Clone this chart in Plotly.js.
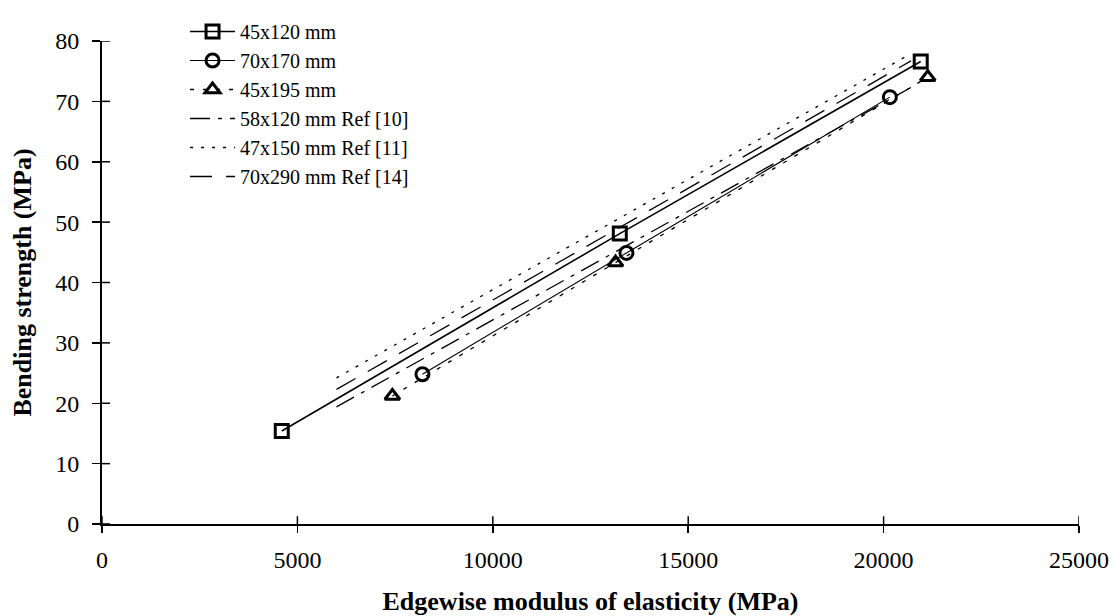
<!DOCTYPE html>
<html><head><meta charset="utf-8">
<script src="https://cdn.plot.ly/plotly-3.0.1.min.js"></script>
<style>html,body{margin:0;padding:0;background:#fff}</style>
</head><body><div id="chart" style="width:1116px;height:616px"></div>
<script>
// Series names
const seriesNames = ["45x120 mm", "70x170 mm", "45x195 mm",
  "58x120 mm Ref [10]", "47x150 mm Ref [11]", "70x290 mm Ref [14]"];

const s45x120_x = [4600, 13250, 20950];
const s45x120_y = [15.4, 48.1, 76.6];
const s70x170_x = [8200, 13420, 20160];
const s70x170_y = [24.8, 44.9, 70.7];
const s45x195_x = [7430, 13140, 21130];
const s45x195_y = [21.2, 43.3, 74.0];

// Reference regression lines
const ref10_x = [6000, 20700];
const ref10_y = [19.4, 72.3];
const ref11_x = [6000, 20700];
const ref11_y = [24.2, 77.9];
const ref14_x = [6000, 20700];
const ref14_y = [22.3, 76.7];

// Axis ticks
const xTicks = [0, 5000, 10000, 15000, 20000, 25000];
const yTicks = [0, 10, 20, 30, 40, 50, 60, 70, 80];

const FONT = "Liberation Serif, Times New Roman, serif";
const black = "#000";

const W = 1116, H = 616;
const M = {l: 102, r: 37, t: 25, b: 92};
const INNER_TICK_PX = 8;
const plotW = W - M.l - M.r, plotH = H - M.t - M.b;

const traces = [
  {x: s45x120_x, y: s45x120_y, name: seriesNames[0], mode: "lines+markers",
   line: {color: black, width: 1.6},
   marker: {symbol: "square-open", size: 13, color: black, line: {width: 3, color: black}}},
  {x: s70x170_x, y: s70x170_y, name: seriesNames[1], mode: "lines+markers",
   line: {color: black, width: 1.1},
   marker: {symbol: "circle-open", size: 13, color: black, line: {width: 3, color: black}}},
  {x: s45x195_x, y: s45x195_y, name: seriesNames[2], mode: "lines+markers",
   line: {color: black, width: 1.3, dash: "4px,9px"},
   marker: {symbol: "triangle-up-open", size: 13, color: black, line: {width: 3, color: black}}},
  {x: ref10_x, y: ref10_y, name: seriesNames[3], mode: "lines",
   line: {color: black, width: 1.3, dash: "20px,8px,4px,8px"}},
  {x: ref11_x, y: ref11_y, name: seriesNames[4], mode: "lines",
   line: {color: black, width: 1.3, dash: "3px,8px"}},
  {x: ref14_x, y: ref14_y, name: seriesNames[5], mode: "lines",
   line: {color: black, width: 1.3, dash: "22px,14px"}}
];

// inner halves of the crossing tick marks (axis decoration)
const innerTicks = [].concat(
  xTicks.map(v => ({type: "line", xref: "x", yref: "paper",
    x0: v, x1: v, y0: 0, y1: INNER_TICK_PX / plotH, line: {color: black, width: 1.5}, layer: "above"})),
  yTicks.map(v => ({type: "line", xref: "paper", yref: "y",
    y0: v, y1: v, x0: 0, x1: INNER_TICK_PX / plotW, line: {color: black, width: 1.5}, layer: "above"}))
);

const layout = {
  width: W, height: H,
  paper_bgcolor: "#fff", plot_bgcolor: "#fff",
  margin: M,
  font: {family: FONT, color: black, size: 24},
  showlegend: true,
  legend: {x: 0.085, y: 1.06, xanchor: "left", yanchor: "top",
    bgcolor: "rgba(0,0,0,0)", font: {family: FONT, size: 20, color: black},
    itemwidth: 45, traceorder: "normal"},
  xaxis: {range: [0, 25000], tickvals: xTicks, ticktext: xTicks.map(String),
    showgrid: false, zeroline: false, showline: true, linecolor: black, linewidth: 1.5,
    ticks: "outside", ticklen: 7, tickwidth: 1.5, tickcolor: black,
    ticklabelstandoff: 7,
    tickfont: {family: FONT, size: 24, color: black},
    title: {text: "<b>Edgewise modulus of elasticity (MPa)</b>", standoff: 20,
      font: {family: FONT, size: 26, color: black}}},
  yaxis: {range: [0, 80], tickvals: yTicks, ticktext: yTicks.map(String),
    showgrid: false, zeroline: false, showline: true, linecolor: black, linewidth: 2,
    ticks: "outside", ticklen: 8, tickwidth: 1.5, tickcolor: black,
    ticklabelstandoff: 8,
    tickfont: {family: FONT, size: 24, color: black},
    title: {text: "<b>Bending strength (MPa)</b>", standoff: 16,
      font: {family: FONT, size: 26, color: black}}},
  shapes: innerTicks
};

Plotly.newPlot("chart", traces, layout, {displayModeBar: false, staticPlot: true});
</script>
</body></html>
